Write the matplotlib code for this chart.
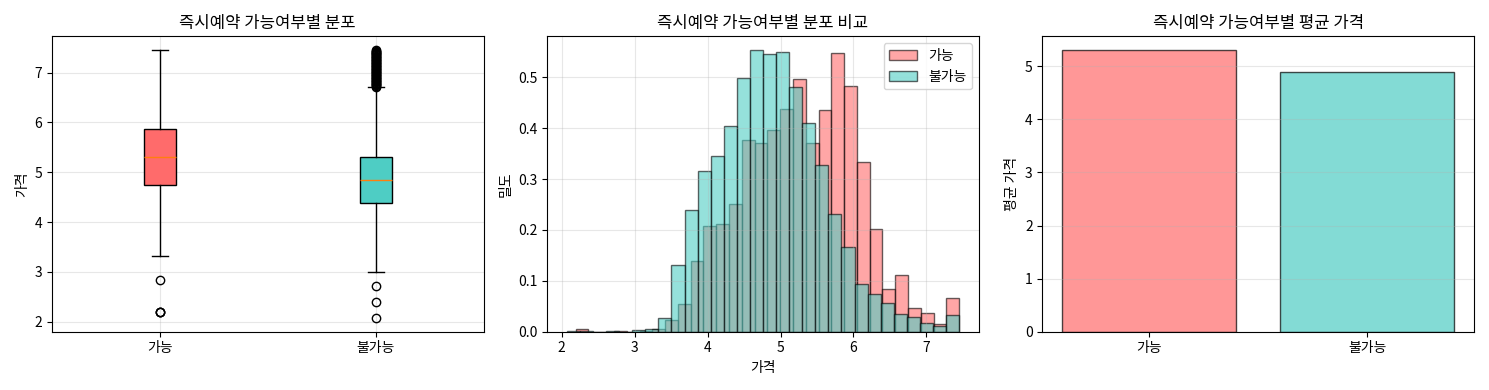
import matplotlib.pyplot as plt
import numpy as np

plt.rcParams["font.family"] = ["Noto Sans CJK KR", "DejaVu Sans"]
plt.rcParams["axes.unicode_minus"] = False

groups = ["가능", "불가능"]
colors = ["#FF6B6B", "#4ECDC4"]

# box plot summary (price, log scale)
box_q1 = [4.74, 4.39]
box_med = [5.31, 4.85]
box_q3 = [5.875, 5.305]
box_lo = [3.33, 3.00]
box_hi = [7.46, 6.715]
fliers_yes = [2.83, 2.19, 2.20, 2.19]
fliers_no = [2.72, 2.40, 2.07,
             6.72, 6.735, 6.75, 6.765, 6.78, 6.795, 6.81, 6.825, 6.84, 6.855,
             6.87, 6.885, 6.90, 6.915, 6.93, 6.945, 6.96, 6.975, 6.99, 7.005,
             7.02, 7.035, 7.05, 7.065, 7.08, 7.095, 7.11, 7.125, 7.14, 7.155,
             7.17, 7.185, 7.20, 7.215, 7.23, 7.245, 7.26, 7.275, 7.29, 7.305,
             7.32, 7.335, 7.35, 7.365, 7.38, 7.395, 7.41, 7.425, 7.44, 7.45]

# histogram (density, 30 bins per group)
range_yes = (2.19, 7.45)
dens_yes = [0.006, 0.0, 0.0, 0.002, 0.0, 0.001, 0.005, 0.024, 0.055, 0.140,
            0.207, 0.212, 0.251, 0.376, 0.371, 0.397, 0.437, 0.497, 0.371, 0.435,
            0.547, 0.483, 0.333, 0.201, 0.083, 0.112, 0.046, 0.037, 0.015, 0.067]
range_no = (2.07, 7.45)
dens_no = [0.001, 0.001, 0.0, 0.001, 0.0, 0.0025, 0.005, 0.026, 0.131, 0.239,
           0.315, 0.346, 0.404, 0.498, 0.553, 0.545, 0.549, 0.481, 0.410, 0.328,
           0.232, 0.167, 0.093, 0.075, 0.056, 0.034, 0.029, 0.018, 0.011, 0.032]

mean_price = [5.30, 4.89]

fig, axes = plt.subplots(1, 3, figsize=(14.89, 3.9), dpi=100)

# box plot
ax = axes[0]
stats = []
for i, fl in enumerate([fliers_yes, fliers_no]):
    stats.append(dict(med=box_med[i], q1=box_q1[i], q3=box_q3[i],
                      whislo=box_lo[i], whishi=box_hi[i], fliers=fl, label=groups[i]))
bp = ax.bxp(stats, patch_artist=True)
for patch, c in zip(bp["boxes"], colors):
    patch.set_facecolor(c)
ax.set_title("즉시예약 가능여부별 분포")
ax.set_ylabel("가격")
ax.grid(True, alpha=0.3)

# histograms
ax = axes[1]
edges_yes = np.linspace(range_yes[0], range_yes[1], len(dens_yes) + 1)
edges_no = np.linspace(range_no[0], range_no[1], len(dens_no) + 1)
ax.hist(edges_yes[:-1], bins=edges_yes, weights=dens_yes, alpha=0.6,
        color=colors[0], edgecolor="black", label=groups[0])
ax.hist(edges_no[:-1], bins=edges_no, weights=dens_no, alpha=0.6,
        color=colors[1], edgecolor="black", label=groups[1])
ax.set_title("즉시예약 가능여부별 분포 비교")
ax.set_xlabel("가격")
ax.set_ylabel("밀도")
ax.legend()
ax.grid(True, alpha=0.3)

# mean price bars
ax = axes[2]
ax.bar(groups, mean_price, color=colors, alpha=0.7, edgecolor="black")
ax.set_title("즉시예약 가능여부별 평균 가격")
ax.set_ylabel("평균 가격")
ax.grid(True, alpha=0.3, axis="y")

plt.tight_layout()
plt.savefig("out.png")
